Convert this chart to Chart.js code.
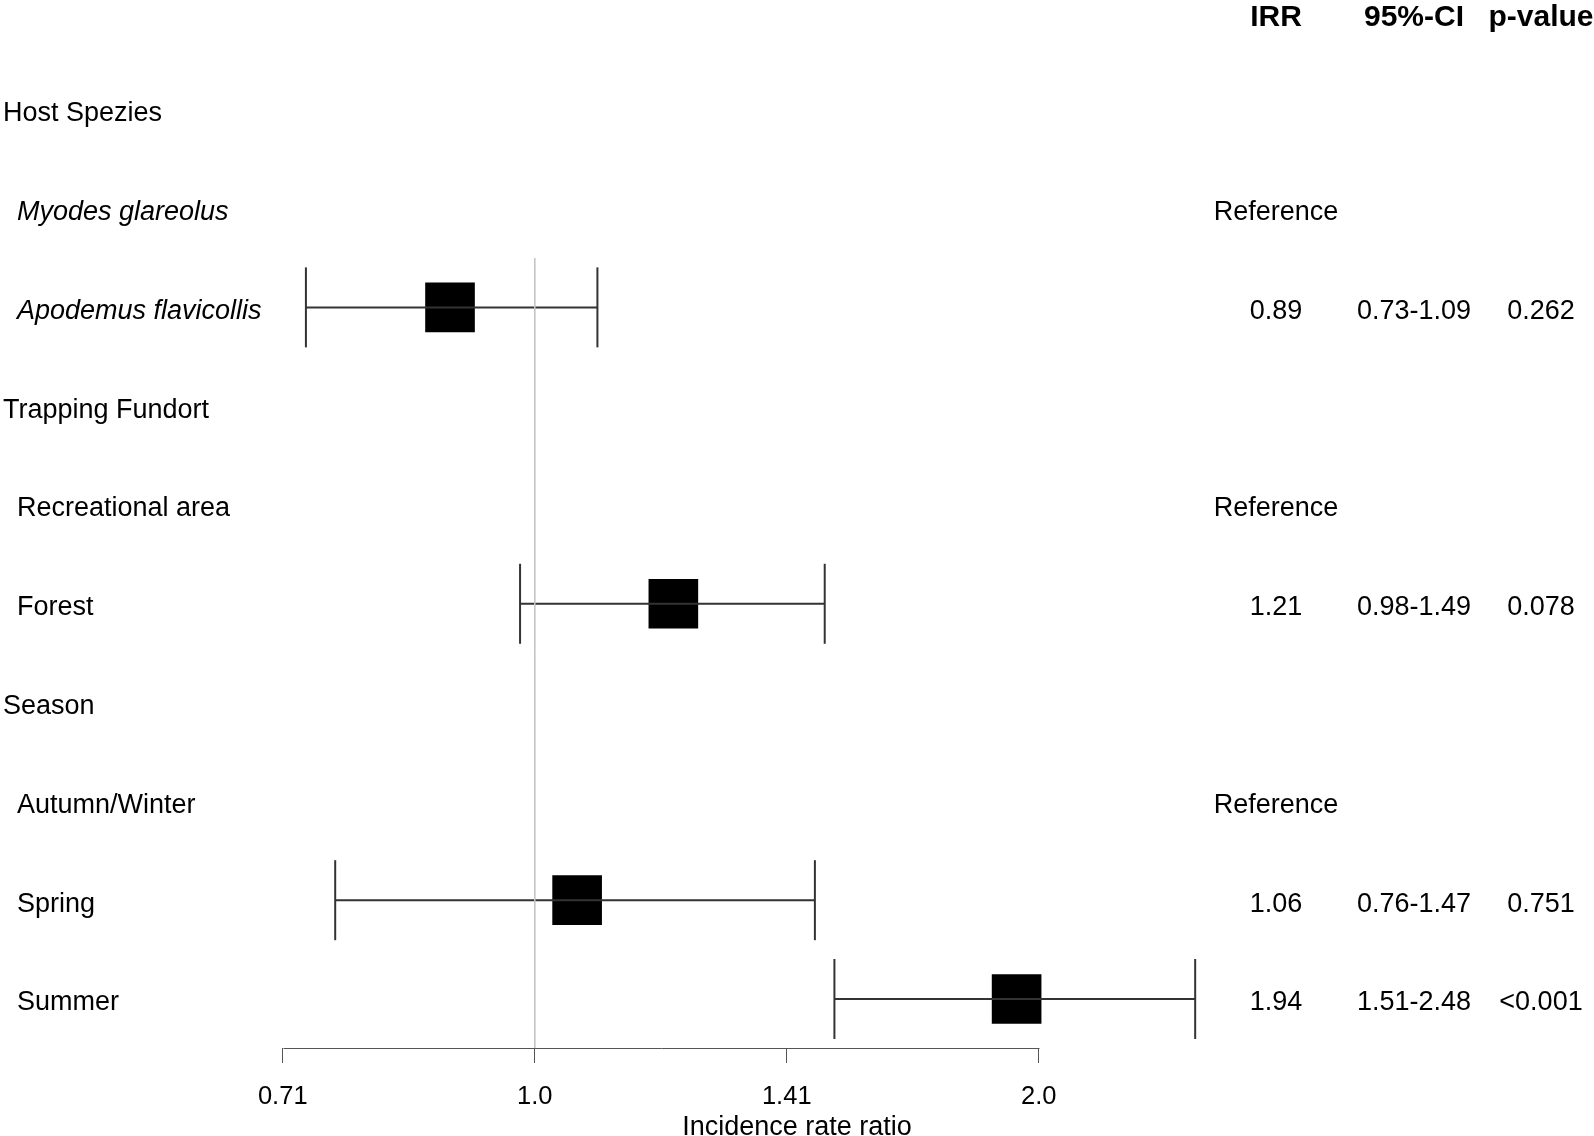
<!DOCTYPE html>
<html>
<head>
<meta charset="utf-8">
<script src="https://cdn.jsdelivr.net/npm/chart.js@4.4.1/dist/chart.umd.min.js"></script>
<style>
  html, body { margin: 0; padding: 0; background: #fff; }
  #wrap { width: 1594px; height: 1136px; position: relative; }
</style>
</head>
<body>
<div id="wrap"><canvas id="forest"></canvas></div>
<script>
// rows of the table, top to bottom (row 0 is the column header line)
const rowLabels = ['Host Spezies', 'Myodes glareolus', 'Apodemus flavicollis', 'Trapping Fundort',
    'Recreational area', 'Forest', 'Season', 'Autumn/Winter', 'Spring', 'Summer'];
const rowLevel = [0, 1, 1, 0, 1, 1, 0, 1, 1, 1];
const rowItalic = [false, true, true, false, false, false, false, false, false, false];

// incidence rate ratios and 95% confidence limits
const irr    = [null, null, 0.89, null, null, 1.21, null, null, 1.06, 1.94];
const ciLow  = [null, null, 0.73, null, null, 0.98, null, null, 0.76, 1.51];
const ciHigh = [null, null, 1.09, null, null, 1.49, null, null, 1.47, 2.48];

// right hand table
const columnHeaders = ['IRR', '95%-CI', 'p-value'];
const irrText = ['', 'Reference', '0.89', '', 'Reference', '1.21', '', 'Reference', '1.06', '1.94'];
const ciText  = ['', '', '0.73-1.09', '', '', '0.98-1.49', '', '', '0.76-1.47', '1.51-2.48'];
const pText   = ['', '', '0.262', '', '', '0.078', '', '', '0.751', '<0.001'];

// x axis
const tickValues = [Math.SQRT1_2, 1, Math.SQRT2, 2];
const tickLabels = ['0.71', '1.0', '1.41', '2.0'];
const refValue = 1;
const axisTitle = 'Incidence rate ratio';

const FONT = "'Liberation Sans', Arial, Helvetica, sans-serif";
const Y_MIN = -0.111, Y_MAX = 10.496;
const REF_TOP = 2.5;
const colX = [1276, 1414, 1541];

// build the point lists from the arrays above
const rows = rowLabels.map((_, i) => i + 1);
const ciSegments = [];
const whiskers = [];
const boxes = [];
rows.forEach((r, i) => {
    if (irr[i] === null) return;
    ciSegments.push({ x: ciLow[i], y: r }, { x: ciHigh[i], y: r }, { x: null, y: null });
    whiskers.push({ x: ciLow[i], y: r }, { x: ciHigh[i], y: r });
    boxes.push({ x: irr[i], y: r });
});

// row labels, table text and the short axis line
const tablePlugin = {
    id: 'tableText',
    afterDraw(chart) {
        const { ctx, scales: { x, y } } = chart;
        ctx.save();

        // axis line only between the outer ticks
        const axisY = Math.round(chart.chartArea.bottom) + 0.5;
        ctx.strokeStyle = '#555';
        ctx.lineWidth = 1;
        ctx.beginPath();
        ctx.moveTo(Math.round(x.getPixelForValue(tickValues[0])) + 0.5, axisY);
        ctx.lineTo(Math.round(x.getPixelForValue(tickValues[tickValues.length - 1])) + 0.5, axisY);
        ctx.stroke();

        ctx.fillStyle = '#000';
        ctx.textBaseline = 'middle';

        // column headers
        ctx.font = `bold 30px ${FONT}`;
        ctx.textAlign = 'center';
        const hy = y.getPixelForValue(0) + 7;
        columnHeaders.forEach((h, c) => ctx.fillText(h, colX[c], hy));

        rowLabels.forEach((label, i) => {
            const py = y.getPixelForValue(rows[i]) + 4;
            ctx.textAlign = 'left';
            ctx.font = `${rowItalic[i] ? 'italic ' : ''}27px ${FONT}`;
            ctx.fillText(label, rowLevel[i] ? 17 : 3, py);

            ctx.font = `27px ${FONT}`;
            ctx.textAlign = 'center';
            ctx.fillText(irrText[i], colX[0], py);
            ctx.fillText(ciText[i], colX[1], py);
            ctx.fillText(pText[i], colX[2], py);
        });
        ctx.restore();
    }
};

const ctx = document.getElementById('forest').getContext('2d');
new Chart(ctx, {
    type: 'scatter',
    data: {
        datasets: [
            {
                type: 'line',
                data: [{ x: refValue, y: REF_TOP }, { x: refValue, y: Y_MAX }],
                borderColor: '#c4c4c4',
                borderWidth: 1,
                pointRadius: 0
            },
            {
                type: 'line',
                data: ciSegments,
                spanGaps: false,
                borderColor: '#333',
                borderWidth: 2,
                pointRadius: 0
            },
            {
                data: whiskers,
                pointStyle: 'line',
                rotation: 90,
                radius: 40,
                borderColor: '#333',
                borderWidth: 2
            },
            {
                data: boxes,
                pointStyle: 'rect',
                radius: 35.1,
                backgroundColor: '#000',
                borderColor: '#000',
                borderWidth: 0
            }
        ]
    },
    options: {
        responsive: true,
        maintainAspectRatio: false,
        animation: false,
        events: [],
        layout: { padding: 0, autoPadding: false },
        plugins: { legend: { display: false }, tooltip: { enabled: false } },
        scales: {
            x: {
                type: 'logarithmic',
                position: 'bottom',
                min: 0.4793,
                max: 4.292,
                afterBuildTicks: (scale) => {
                    scale.ticks = tickValues.map(v => ({ value: v }));
                },
                afterFit: (scale) => { scale.height = 88; },
                ticks: {
                    autoSkip: false,
                    maxRotation: 0,
                    padding: 21,
                    color: '#000',
                    font: { family: FONT, size: 25.5, lineHeight: 1 },
                    callback: (value, index) => tickLabels[index]
                },
                grid: {
                    drawOnChartArea: false,
                    drawTicks: true,
                    tickLength: 15,
                    color: '#555',
                    lineWidth: 1
                },
                border: { display: false },
                title: {
                    display: true,
                    text: axisTitle,
                    color: '#000',
                    padding: 0,
                    font: { family: FONT, size: 27, lineHeight: 0.63 }
                }
            },
            y: {
                type: 'linear',
                display: false,
                reverse: true,
                min: Y_MIN,
                max: Y_MAX
            }
        }
    },
    plugins: [tablePlugin]
});
</script>
</body>
</html>
